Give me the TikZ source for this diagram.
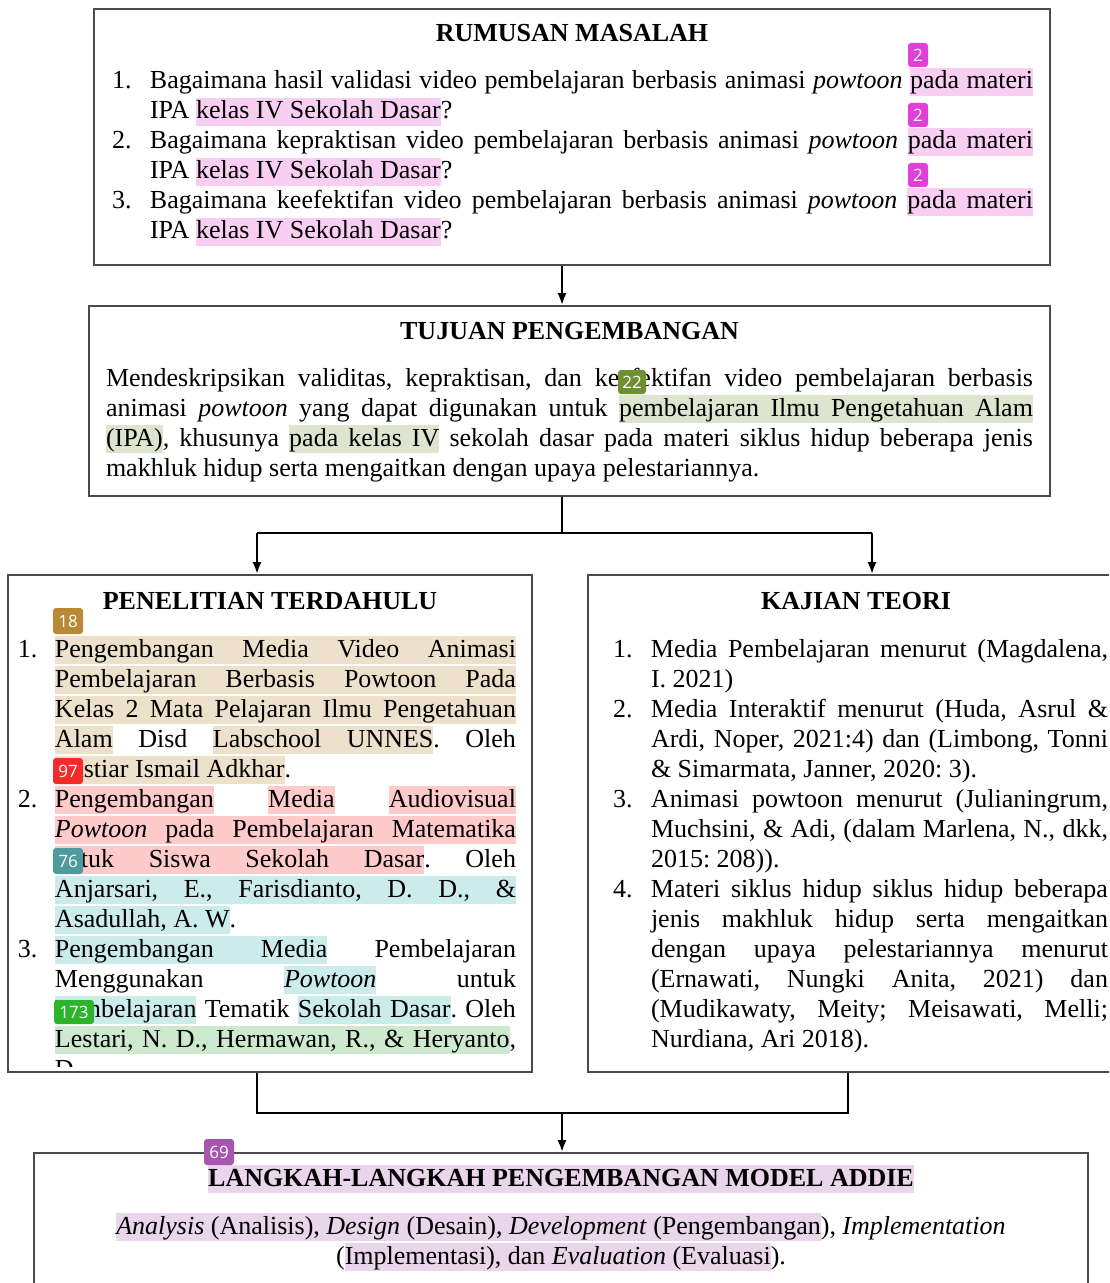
\documentclass[tikz,border=0pt]{standalone}
\usepackage{fontspec}
\setmainfont{Liberation Serif}
\newfontfamily\badgefont{Open Sans}
\usetikzlibrary{arrows.meta}
\definecolor{hlpink}{HTML}{F9CEF3}
\definecolor{bdpink}{HTML}{E03FD8}
\definecolor{hlolive}{HTML}{DDE5CF}
\definecolor{bdolive}{HTML}{6E9030}
\definecolor{hlbeige}{HTML}{EEE1CB}
\definecolor{bdbeige}{HTML}{B98A33}
\definecolor{hlred}{HTML}{FFCACA}
\definecolor{bdred}{HTML}{F22B2B}
\definecolor{hlteal}{HTML}{CCECEC}
\definecolor{bdteal}{HTML}{4F9A9C}
\definecolor{hlgreen}{HTML}{CEEACE}
\definecolor{bdgreen}{HTML}{2CB52C}
\definecolor{hlpurple}{HTML}{E9D6EB}
\definecolor{bdpurple}{HTML}{A855B0}
\definecolor{boxline}{HTML}{4A4A4A}
% own highlighter (word boxes + stretchable coloured leaders for spaces)
\newcommand\hlcolname{}
\newcommand\HL[2]{\def\hlcolname{#1}\hlscan#2 \hlend}
\def\hlscan#1 #2\hlend{\hlword{#1}\ifx\relax#2\relax\else\hlspace\hlscan#2\hlend\fi}
\newcommand\hlword[1]{\setbox0\hbox{#1}\rlap{\color{\hlcolname}\vrule width\wd0 height 10.6pt depth 3.4pt}\box0\relax}
\newcommand\hlspace{{\color{\hlcolname}\leaders\vrule height 10.6pt depth 3.4pt\hskip\fontdimen2\font plus\fontdimen3\font minus\fontdimen4\font\relax}}
\newcommand\HPk[1]{\HL{hlpink}{#1}}
\newcommand\HOl[1]{\HL{hlolive}{#1}}
\newcommand\HBg[1]{\HL{hlbeige}{#1}}
\newcommand\HRd[1]{\HL{hlred}{#1}}
\newcommand\HTl[1]{\HL{hlteal}{#1}}
\newcommand\HGr[1]{\HL{hlgreen}{#1}}
\newcommand\HPu[1]{\HL{hlpurple}{#1}}
\newcommand\bodyfont{\fontsize{13pt}{15pt}\selectfont\frenchspacing\lineskiplimit=-20pt\lineskip=0pt}
\newlength\lind
\newcommand\itm[1]{\par\noindent\strut\llap{\makebox[\lind][l]{#1}}\ignorespaces}
\begin{document}
\begin{tikzpicture}[x=0.5pt,y=-0.5pt,
  boxnode/.style={draw=boxline, line width=0.8pt, inner sep=0pt, fill=none},
  txt/.style={anchor=north west, inner sep=0pt, outer sep=0pt, align=justify, font=\bodyfont},
  ttl/.style={anchor=base, inner sep=0pt, font=\bodyfont\bfseries},
  cline/.style={anchor=base, inner sep=0pt, font=\bodyfont},
  conn/.style={line width=1.3pt, black},
  arr/.style={conn, -{Latex[length=6pt,width=4.5pt]}},
  badge/.style={fill=#1, rounded corners=1.5pt, text=white, inner xsep=1.5pt, inner ysep=0pt,
     minimum height=12pt, minimum width=10pt, font=\badgefont\fontsize{8.5pt}{10pt}\selectfont}]
\useasboundingbox (0,0) rectangle (1109,1283);
\clip (0,0) rectangle (1109,1283);
\fill[white] (0,0) rectangle (1109,1283);

% boxes
\node[boxnode, minimum width=478pt, minimum height=128pt] (b1) at (572,137) {};
\node[boxnode, minimum width=480.5pt, minimum height=95pt] (b2) at (569.5,401) {};
\node[boxnode, minimum width=262pt, minimum height=248.5pt] (b3) at (270,823.5) {};
\node[boxnode, minimum width=281pt, minimum height=248.5pt] (b4) at (869,823.5) {};
\node[boxnode, minimum width=527pt, minimum height=73.5pt] (b5) at (561,1226.5) {};

% box 1
\node[ttl] (h1) at (572,42) {RUMUSAN MASALAH};
\node[txt, text width=460.5pt] (t1) at (112,59) {\setlength\lind{19pt}\leftskip=\lind
\itm{1.}Bagaimana hasil validasi video pembelajaran berbasis animasi \textit{powtoon} \HPk{pada materi}\linebreak IPA \HPk{kelas IV Sekolah Dasar}?
\itm{2.}Bagaimana kepraktisan video pembelajaran berbasis animasi \textit{powtoon} \HPk{pada materi}\linebreak IPA \HPk{kelas IV Sekolah Dasar}?
\itm{3.}Bagaimana keefektifan video pembelajaran berbasis animasi \textit{powtoon} \HPk{pada materi}\linebreak IPA \HPk{kelas IV Sekolah Dasar}?\par};

% box 2
\node[ttl] (h2) at (569.5,339) {TUJUAN PENGEMBANGAN};
\node[txt, text width=463.5pt] (t2) at (106,365) {\noindent\strut Mendeskripsikan validitas, kepraktisan, dan keefektifan video pembelajaran berbasis\linebreak animasi \textit{powtoon} yang dapat digunakan untuk \HOl{pembelajaran Ilmu Pengetahuan Alam}\linebreak \HOl{(IPA)}, khusunya \HOl{pada kelas IV} sekolah dasar pada materi siklus hidup beberapa jenis\linebreak makhluk hidup serta mengaitkan dengan upaya pelestariannya.\par};

% box 3
\node[ttl] (h3) at (270,609) {PENELITIAN TERDAHULU};
\begin{scope}
\clip (8,575) rectangle (532,1066);
\node[txt, text width=249pt] (t3) at (18,627) {\setlength\lind{18.5pt}\leftskip=\lind
\itm{1.}\HBg{Pengembangan Media Video Animasi}\linebreak \HBg{Pembelajaran Berbasis Powtoon Pada}\linebreak \HBg{Kelas 2 Mata Pelajaran Ilmu Pengetahuan}\linebreak \HBg{Alam} Disd \HBg{Labschool UNNES}. Oleh\linebreak \HBg{Bastiar Ismail Adkhar}.
\itm{2.}\HRd{Pengembangan} \HRd{Media} \HRd{Audiovisual}\linebreak \HRd{\textit{Powtoon} pada Pembelajaran Matematika}\linebreak \HRd{untuk Siswa Sekolah Dasar}. Oleh\linebreak \HTl{Anjarsari, E., Farisdianto, D. D., \&}\linebreak \HTl{Asadullah, A. W}.
\itm{3.}\HTl{Pengembangan Media} Pembelajaran\linebreak Menggunakan \HTl{\textit{Powtoon}} untuk\linebreak \HTl{Pembelajaran} Tematik \HTl{Sekolah Dasar}. Oleh\linebreak \HGr{Lestari, N. D., Hermawan, R., \& Heryanto},\linebreak D.\par};
\end{scope}

% box 4
\node[ttl] (h4) at (856,609) {KAJIAN TEORI};
\node[txt, text width=247.5pt] (t4) at (613,627) {\setlength\lind{19pt}\leftskip=\lind
\itm{1.}Media Pembelajaran menurut (Magdalena,\linebreak I. 2021)
\itm{2.}Media Interaktif menurut (Huda, Asrul \&\linebreak Ardi, Noper, 2021:4) dan (Limbong, Tonni\linebreak \& Simarmata, Janner, 2020: 3).
\itm{3.}Animasi powtoon menurut (Julianingrum,\linebreak Muchsini, \& Adi, (dalam Marlena, N., dkk,\linebreak 2015: 208)).
\itm{4.}Materi siklus hidup siklus hidup beberapa\linebreak jenis makhluk hidup serta mengaitkan\linebreak dengan upaya pelestariannya menurut\linebreak (Ernawati, Nungki Anita, 2021) dan\linebreak (Mudikawaty, Meity; Meisawati, Melli;\linebreak Nurdiana, Ari 2018).\par};

% box 5
\node[ttl] (h5) at (561,1186) {\HPu{LANGKAH-LANGKAH PENGEMBANGAN MODEL ADDIE}};
\node[cline] (t5a) at (561,1234) {\HPu{\textit{Analysis} (Analisis), \textit{Design} (Desain), \textit{Development} (Pengembangan}), \textit{Implementation}};
\node[cline] (t5b) at (561,1264) {(\HPu{Implementasi), dan \textit{Evaluation} (Evaluasi}).};

% connectors
\coordinate (m1) at (562,0);
\coordinate (j1) at (562,533);
\coordinate (l1) at (257,533);
\coordinate (r1) at (872,533);
\coordinate (l2) at (257,1113);
\coordinate (r2) at (848,1113);
\coordinate (j2) at (562,1113);
\draw[arr] (b1.south -| m1) -- (b2.north -| m1);
\draw[conn] (b2.south -| j1) -- (j1);
\draw[conn] (l1) -- (r1);
\draw[arr] (l1) -- (b3.north -| l1);
\draw[arr] (r1) -- (b4.north -| r1);
\draw[conn] (b3.south -| l2) -- (l2) -- (r2) -- (b4.south -| r2);
\draw[arr] (j2) -- (b5.north -| j2);

% badges
\node[badge=bdpink] (g1) at (918,55) {2};
\node[badge=bdpink] (g2) at (918,115) {2};
\node[badge=bdpink] (g3) at (918,175) {2};
\node[badge=bdolive, minimum width=14pt] (g4) at (632,382) {22};
\node[badge=bdbeige, minimum height=13pt, minimum width=15pt] (g5) at (68,621) {18};
\node[badge=bdred, minimum height=13pt, minimum width=15pt] (g6) at (68,771) {97};
\node[badge=bdteal, minimum height=13pt, minimum width=15pt] (g7) at (68,861) {76};
\node[badge=bdgreen, minimum height=12pt, minimum width=20pt] (g8) at (74,1012) {173};
\node[badge=bdpurple, minimum height=13pt, minimum width=15pt] (g9) at (219,1152) {69};
\end{tikzpicture}
\end{document}
